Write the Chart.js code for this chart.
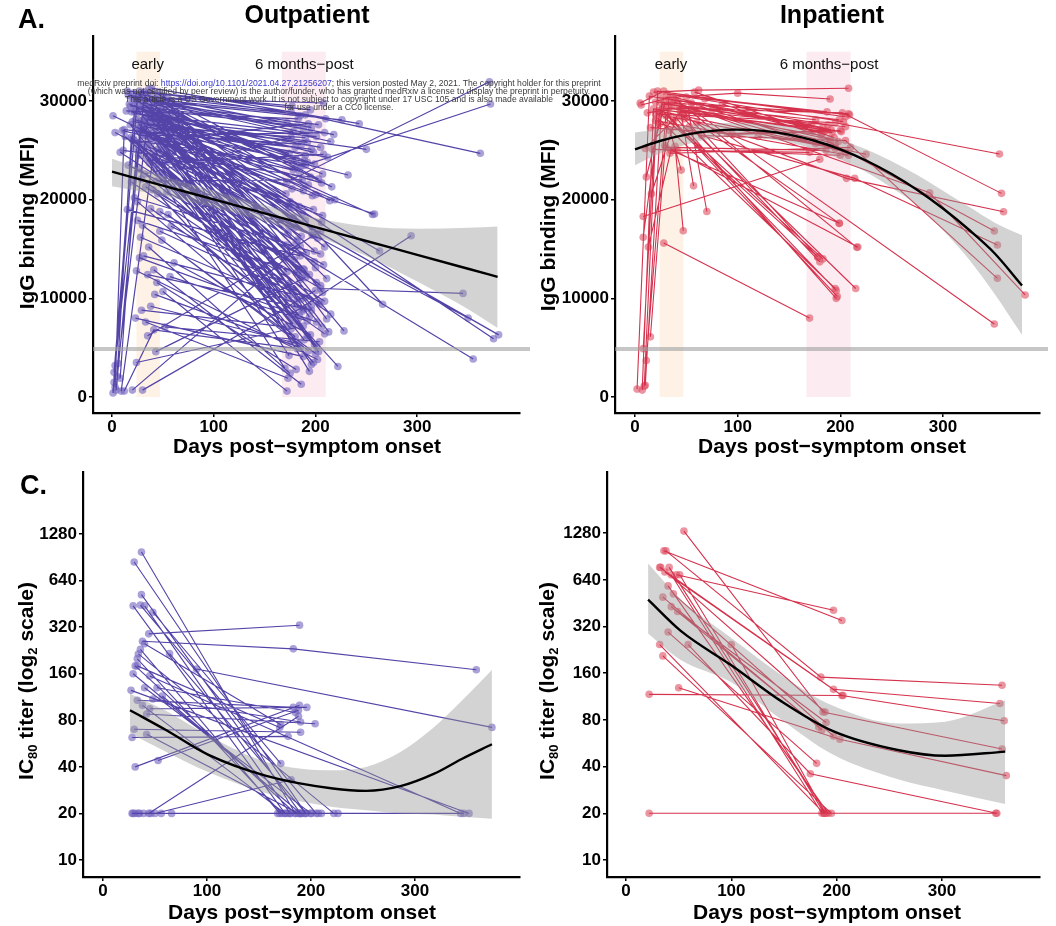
<!DOCTYPE html>
<html>
<head>
<meta charset="utf-8">
<script src="https://cdn.jsdelivr.net/npm/chart.js@4.4.1/dist/chart.umd.min.js"></script>
<style>
  body { margin: 0; background: #fff; width: 1056px; height: 926px; position: relative; overflow: hidden; }
  canvas { position: absolute; }
</style>
</head>
<body>
<canvas id="cB" width="526" height="460" style="left:530px;top:0px"></canvas>
<canvas id="cC" width="530" height="466" style="left:0px;top:460px"></canvas>
<canvas id="cD" width="526" height="466" style="left:530px;top:460px"></canvas>
<canvas id="cA" width="620" height="460" style="left:0px;top:0px"></canvas>
<script>
// ---- shared axis / annotation values ----
const xTicks = [0, 100, 200, 300];
const iggTicks = [0, 10000, 20000, 30000];
const titerTicks = [10, 20, 40, 80, 160, 320, 640, 1280];
const earlyBand = [24, 47];
const sixMonthBand = [167, 210];
const bandTop = 35000;
const bandLabels = ['early', '6 months\u2212post'];
const bandLabelDays = [35, 189];
const bandLabelY = 33700;
const seroThreshold = 4870;

// ---- A. outpatient IgG (two visits) ----
const outDay1 = [18,22,25,27,30,32,35,38,40,42, 45,20,24,28,33,36,44,48,52,55, 60,16,23,31,39,46,58,65,1,3,
  24,26,29,31,34,37,40,43,47,50, 53,57,62,17,8,27,30,35,41,49, 54,20,33,38,45,51,59,11,36,42,
  18,22,26,29,33,37,40,44,48,52, 56,21,31,35,39,46,24,28,34,43, 30,53,27,41,25,30,36,41,45,50,
  27,33,38,47,55,61,23,29,44,52, 8,20,30,24,43,35,14,10,47,57, 63,70,33];
const outVal1 = [29500,30200,28700,31000,29800,28200,30500,27600,29100,28400,
  30800,27900,29300,26800,30100,28900,27300,29700,28600,30300,
  27100,30600,28100,27400,31300,29900,28800,27800,28500,26800,
  30000,27700,29100,25300,28500,26200,30400,27500,25900,29300,
  26600,28000,25100,29700,24800,27200,30700,26400,28800,24600,
  27900,26100,29500,25600,28200,23800,26900,25000,27000,24300,
  27600,29600,25800,28000,26500,29300,24700,27900,25400,28400,
  23900,26200,27300,24200,28700,26000,30100,27000,25500,23400,
  25000,27200,23100,29800,19800,17400,15200,12900,20600,10700,
  14100,21300,9200,16800,18500,13600,8000,22100,11600,7100,
  1900,700,700,3500,4600,6200,29000,27000,18800,12200,
  21800,24200,7600];
const outDay2 = [172,185,178,195,188,201,176,192,182,205, 210,170,198,186,215,174,190,203,181,208,
  196,218,184,212,243,226,199,250,175,180, 193,171,187,202,179,197,214,183,206,191,
  177,209,185,256,194,173,200,188,176,198, 211,204,182,205,190,172,219,195,186,207,
  178,192,184,199,174,206,189,181,196,213, 187,170,203,176,194,183,375,380,350,355,
  222,201,188,228,180,193,175,186,198,172, 201,209,183,190,177,195,188,215,181,204,
  24,185,200,188,190,205,183,178,174,192, 208,196,173];
const outVal2 = [27800,28500,26900,29100,27200,26400,28900,25800,27500,25300,
  28200,26100,24800,25600,25900,24700,26300,27600,24100,29800,
  25100,26600,22900,24300,27700,28100,23600,25100,19800,17200,
  21500,15400,18600,16100,13900,20400,19900,12800,17700,14600,
  21100,15200,11900,18500,12400,16600,13100,20900,10900,19000,
  12000,9400,15900,11300,17900,14200,20000,22300,16300,18400,
  7400,6200,8300,5300,4200,7100,5800,9100,3300,6600,
  8700,2900,4600,6900,2600,7900,5900,6300,8000,3850,
  3100,5100,8900,6700,6100,4700,2400,1300,3500,600,
  7600,9700,5400,10100,8100,6300,4100,8400,2800,5600,
  25200,15300,10800,7200,12100,16800,28200,23000,11500,7700,
  13400,9300,1900];
const outMoreDay1 = [15,19,21,23,26,28,29,32,34,36, 38,41,43,45,47,49,50,53,56,60,
  62,13,16,19,22,25,28,31,35,38, 42,46,49,54,58,64,27,32,37,44, 51,59,66,40,33,29,24];
const outMoreVal1 = [31000,28900,30800,27000,30600,29400,26500,30900,29800,31200,
  28300,26900,30200,25100,29000,27400,30600,24900,29600,26300,
  28600,26400,23500,21800,20200,17900,16200,14300,12400,19100,
  10400,22700,15900,20800,17300,23300,25800,22600,23700,21900,
  22300,24700,26100,28100,27700,8800,12800];
const outMoreDay2 = [177,189,196,206,180,171,209,184,197,203, 178,192,216,174,199,187,207,182,194,176,
  211,186,199,173,205,182,191,178,196,209, 185,172,200,188,203,181,193,176,208,187, 197,174,189,263,232,171,202];
const outMoreVal2 = [29500,24000,27300,21700,23200,20600,26800,19300,16900,22100,
  18200,23800,21300,17300,14800,12300,10600,9800,8100,5600,
  7900,9900,13700,11200,14500,12600,9000,10400,8800,6400,
  5000,10000,4400,13000,9600,15700,27700,26300,24600,22000,
  16400,19200,12900,14800,22500,7100,3800];
// outpatient IgG (three visits)
const outTriDay1 = [1,2,3,4,5,6,2,9,3,12,30,22,26,40,19,35,28];
const outTriVal1 = [400,1500,3200,700,2100,3400,2500,600,1000,600,27000,26000,24500,21000,30400,29000,28000];
const outTriDay2 = [22,25,28,31,19,35,15,40,12,41,172,190,176,205,190,200,178];
const outTriVal2 = [28900,30400,27300,29900,26300,28100,19000,24100,27100,6800,21800,23500,8400,11000,28600,20500,19200];
const outTriDay3 = [186,194,178,207,172,190,185,201,180,182,371,372,294,345,362,258,266];
const outTriVal3 = [23400,26700,18100,22600,12700,24500,14300,11600,25300,4900,31950,29700,16350,10500,24700,18550,9400];
// outpatient IgG fit
const outFitDays = [0,50,100,150,200,250,300,350,379];
const outFit = [22840,21430,20030,18620,17220,15810,14410,13000,12180];
const outFitHi = [24150,22400,20900,19450,18150,17300,17050,17150,17280];
const outFitLo = [21350,20400,19200,17800,16300,14300,11700,8900,7000];

// ---- B. inpatient IgG ----
const inDay1 = [8,20,27,31,36,39,44,50,55,58, 63,68,75,85,5,23,30,17,41,34, 22,26,32,37,43,48,53,29,60,28, 39,52,45,34,60,42,95,120];
const inVal1 = [18300,29900,29300,30700,29600,30100,29000,30400,29800,30900,
  29500,30200,29100,29700,29800,29000,25300,25100,25000,24700,
  28300,29100,28600,27900,29400,28200,27400,25500,27800,15600,
  25400,29000,28700,27000,28800,30000,26600,26400];
const inDay2 = [180,208,205,187,172,199,181,203,185,194, 176,209,191,198,28,225,186,200,170,210,
  195,197,196,183,178,180,215,217,199,170, 47,70,57,45,350,216,185,195];
const inVal2 = [24100,28700,27400,28900,27600,28100,26500,27900,27000,26300,
  25700,28600,27100,25900,31000,24600,25000,24500,24800,25300,
  11000,10200,10800,14000,14200,13700,11000,15200,17600,8000,
  16850,18800,21400,23000,7400,15170,26900,25500];
const inTriDay1 = [2,7,9,10,11,15,8,11,13,8, 16,10,18,25,6,12,20,33,46,56, 24,38,65,15];
const inTriVal1 = [800,700,1100,1200,3700,6100,4900,22300,15200,16200,
  20600,25200,30900,30300,29600,28800,28700,29300,28400,29200, 27700,29900,26500,27300];
const inTriDay2 = [14,18,22,26,30,33,20,29,35,24, 40,46,62,100,37,47,195,202,206,190, 214,287,205,90];
const inTriVal2 = [30500,29200,31000,29700,28500,30200,28000,29800,25000,28800,
  28300,29000,31100,30800,30400,29400,27800,28800,22160,25800, 22160,20700,26000,26700];
const inTriDay3 = [188,201,205,176,195,183,208,190,199,178, 196,192,208,190,182,205,355,357,359,350, 353,380,353,200];
const inTriVal3 = [27600,26900,28400,28100,25200,27300,24500,26100,17600,14200,
  10000,26800,31300,30200,26700,24800,24630,20640,18780,16820, 15400,10340,12030,27000];
const inFitDays = [0,25,50,75,100,125,150,175,200,225,250,275,300,325,350,377];
const inFit = [25100,25975,26600,26975,27100,26975,26600,25975,25100,23975,22600,20975,19100,16975,14600,11300];
const inFitHi = [26800,27200,27500,27700,27800,27700,27400,26800,26100,25100,23900,22500,20900,19300,17700,16400];
const inFitLo = [23500,24700,25600,26200,26400,26200,25800,25100,24100,22800,21200,19400,16900,14000,10500,6300];

// ---- C. outpatient IC80 titer ----
const ncDay1 = [37,30,37,29,36,40,48,44,40,36, 34,33,31,64,90,29,45,40,52,27, 57,33,38,45,42,30,28,42,53,31,
  44,50,28,31,35,39,46,56,66,34, 33,48,29];
const ncVal1 = [980,845,520,440,445,440,400,290,250,230, 215,200,180,216,172,160,155,130,130,125,
  115,108,100,95,88,70,62,65,44,40, 20,20,20,20,20,20,20,20,20,20, 180,110,20];
const ncDay2 = [185,195,190,175,205,180,171,189,171,170, 222,172,185,195,374,190,344,200,185,352,
  190,183,175,196,204,190,178,188,188,189, 188,181,180,200,168,210,193,226,178,207, 170,190,347];
const ncVal2 = [20,20,20,20,20,20,42,330,75,20, 20,20,20,20,72,20,20,20,90,20,
  20,97,20,97,76,67,63,20,93,100, 85,33,20,20,20,20,20,20,20,20, 72,78,20];
const ncTriDay1 = [38], ncTriVal1 = [260];
const ncTriDay2 = [183], ncTriVal2 = [232];
const ncTriDay3 = [359], ncTriVal3 = [170];
const ncFitDays = [26,61,101,157,221,253,286,318,345,374];
const ncFit = [93,69,48,35,29,28,30,36,45,56];
const ncFitHi = [119,92,64,43,38,40,50,72,107,169];
const ncFitLo = [66,50,37,27,22,21,20,19.7,19,18.5];

// ---- D. inpatient IC80 titer ----
const ipDay1 = [36,48,41,51,40,35,43,49,40,100, 32,35,22,22,45,33,43];
const ipVal1 = [985,690,770,690,585,495,430,400,295,245, 245,207,117,20,520,770,690];
const ipDay2 = [205,197,190,188,192,186,183,190,181,189, 188,195,206,351,197,189,186];
const ipVal2 = [350,408,20,20,20,69,72,77,42,20, 20,20,115,20,63,90,20];
const ipTriDay1 = [55,38,32,37,59,50], ipTriVal1 = [1320,985,770,720,245,129];
const ipTriDay2 = [187,185,197,205,175,203], ipTriVal2 = [90,151,126,115,36,60];
const ipTriDay3 = [357,357,355,359,352,361], ipTriVal3 = [52,134,102,79,20,35];
const ipFitDays = [21,52,100,148,196,259,303,360];
const ipFit = [477,300,180,105,68,51,47,50];
const ipFitHi = [815,480,270,155,99,76,78,107];
const ipFitLo = [289,195,140,80,48,33,28,23];

const FONT = "'Liberation Sans', Arial, Helvetica, sans-serif";
Chart.defaults.font.family = FONT;
Chart.defaults.animation = false;

const PURPLE_LINE = '#5444a8';
const PURPLE_PT = 'rgba(112,98,190,0.6)';
const RED_LINE = '#d5324d';
const RED_PT = 'rgba(222,78,98,0.6)';

function zip(days, vals) {
  return days.map((d, i) => ({x: d, y: vals[i]}));
}

// join each subject's visits into one broken line (null y = gap)
function subjects(two, three) {
  const lines = [], points = [];
  const add = seq => {
    seq.forEach(p => { lines.push({x: p[0], y: p[1]}); points.push({x: p[0], y: p[1]}); });
    lines.push({x: seq[seq.length - 1][0], y: null});
  };
  two[0].forEach((d, i) => add([[d, two[1][i]], [two[2][i], two[3][i]]]));
  three[0].forEach((d, i) => add([[d, three[1][i]], [three[2][i], three[3][i]], [three[4][i], three[5][i]]]));
  return {lines, points};
}

function drawVertical(ctx, parts, x, y) {
  ctx.save();
  ctx.translate(x, y);
  ctx.rotate(-Math.PI / 2);
  ctx.textBaseline = 'middle';
  ctx.textAlign = 'left';
  ctx.fillStyle = '#000';
  const big = 'bold 21px ' + FONT, small = 'bold 13px ' + FONT;
  let w = 0;
  parts.forEach(p => { ctx.font = p[1] ? small : big; w += ctx.measureText(p[0]).width; });
  let cx = -w / 2;
  parts.forEach(p => {
    ctx.font = p[1] ? small : big;
    ctx.fillText(p[0], cx, p[1] ? 6 : 0);
    cx += ctx.measureText(p[0]).width;
  });
  ctx.restore();
}

function text(ctx, s, x, y, font, align) {
  ctx.font = font;
  ctx.textAlign = align || 'center';
  ctx.textBaseline = 'alphabetic';
  ctx.fillStyle = '#000';
  ctx.fillText(s, x, y);
}

const watermark = [
  [['medRxiv preprint doi: ', '#3a3a3a'], ['https://doi.org/10.1101/2021.04.27.21256207', '#3b3bd0'],
   ['; this version posted May 2, 2021. The copyright holder for this preprint', '#3a3a3a']],
  [['(which was not certified by peer review) is the author/funder, who has granted medRxiv a license to display the preprint in perpetuity.', '#3a3a3a']],
  [['This article is a US Government work. It is not subject to copyright under 17 USC 105 and is also made available', '#3a3a3a']],
  [['for use under a CC0 license.', '#3a3a3a']]
];

function makePanel(id, o) {
  const subj = subjects(o.two, o.three);
  const decor = {
    id: 'decor',
    beforeDatasetsDraw(chart) {
      if (!o.bands) return;
      const {ctx, scales: {x, y}} = chart;
      ctx.save();
      const yt = y.getPixelForValue(bandTop), yb = y.getPixelForValue(0);
      ctx.fillStyle = '#fdf2e5';
      ctx.fillRect(x.getPixelForValue(earlyBand[0]), yt, x.getPixelForValue(earlyBand[1]) - x.getPixelForValue(earlyBand[0]), yb - yt);
      ctx.fillStyle = '#fcebf0';
      ctx.fillRect(x.getPixelForValue(sixMonthBand[0]), yt, x.getPixelForValue(sixMonthBand[1]) - x.getPixelForValue(sixMonthBand[0]), yb - yt);
      ctx.font = '15px ' + FONT;
      ctx.fillStyle = '#111';
      ctx.textAlign = 'center';
      ctx.textBaseline = 'middle';
      bandLabels.forEach((l, i) => ctx.fillText(l, x.getPixelForValue(bandLabelDays[i]), y.getPixelForValue(bandLabelY)));
      ctx.restore();
    },
    afterDatasetsDraw(chart) {
      if (!o.bands) return;
      const {ctx, chartArea: a, scales: {y}} = chart;
      ctx.save();
      ctx.strokeStyle = 'rgba(160,160,160,0.6)';
      ctx.lineWidth = 4;
      ctx.beginPath();
      const yy = y.getPixelForValue(seroThreshold);
      ctx.moveTo(a.left, yy);
      ctx.lineTo(a.right + o.thrExtra, yy);
      ctx.stroke();
      ctx.restore();
    },
    afterDraw(chart) {
      const ctx = chart.ctx;
      ctx.save();
      if (o.title) text(ctx, o.title[0], o.title[1], o.title[2], 'bold 25px ' + FONT);
      if (o.letter) text(ctx, o.letter[0], o.letter[1], o.letter[2], 'bold 27px ' + FONT, 'left');
      text(ctx, 'Days post\u2212symptom onset', o.xTitle[0], o.xTitle[1], 'bold 21px ' + FONT);
      drawVertical(ctx, o.yTitle, o.yTitlePos[0], o.yTitlePos[1]);
      if (o.watermark) {
        ctx.font = '8.6px ' + FONT;
        ctx.textBaseline = 'middle';
        ctx.textAlign = 'left';
        watermark.forEach((line, li) => {
          let w = 0;
          line.forEach(p => { w += ctx.measureText(p[0]).width; });
          let cx = 339 - w / 2;
          line.forEach(p => {
            ctx.fillStyle = p[1];
            ctx.fillText(p[0], cx, 84 + li * 8);
            cx += ctx.measureText(p[0]).width;
          });
        });
      }
      ctx.restore();
    }
  };

  const axisFont = {family: FONT, size: 17, weight: 'bold'};
  const grid = {drawOnChartArea: false, drawTicks: true, tickLength: 4, color: '#000', lineWidth: 1.5};
  const border = {display: true, color: '#000', width: 2.2};
  const curve = 'monotone';

  new Chart(document.getElementById(id), {
    type: 'line',
    data: {
      datasets: [
        {data: zip(o.fit[0], o.fit[1]), borderColor: '#000', borderWidth: 2.4, pointRadius: 0, cubicInterpolationMode: curve, order: 0},
        {data: zip(o.fit[0], o.fit[2]), borderWidth: 0, borderColor: 'rgba(0,0,0,0)', pointRadius: 0, cubicInterpolationMode: curve, order: 1},
        {data: zip(o.fit[0], o.fit[3]), borderWidth: 0, borderColor: 'rgba(0,0,0,0)', pointRadius: 0, cubicInterpolationMode: curve,
         fill: '-1', backgroundColor: 'rgba(150,150,150,0.42)', order: 1},
        {data: subj.lines, borderColor: o.lineColor, borderWidth: o.lineWidth, pointRadius: 0, spanGaps: false, order: 2},
        {data: subj.points, showLine: false, pointRadius: 3.8, pointBorderWidth: 0, pointBackgroundColor: o.pointColor, order: 3}
      ]
    },
    options: {
      responsive: false,
      animation: false,
      layout: {padding: o.padding},
      plugins: {legend: {display: false}, tooltip: {enabled: false}},
      scales: {
        x: {
          type: 'linear', min: o.xRange[0], max: o.xRange[1],
          afterBuildTicks: s => { s.ticks = xTicks.map(v => ({value: v})); },
          afterFit: s => { s.height = o.xH; },
          grid, border,
          ticks: {font: axisFont, color: '#000', padding: 0, maxRotation: 0, callback: v => String(v)}
        },
        y: {
          type: o.log ? 'logarithmic' : 'linear', min: o.yRange[0], max: o.yRange[1],
          afterBuildTicks: s => { s.ticks = o.yTicks.map(v => ({value: v})); },
          afterFit: s => { s.width = o.yW; },
          grid, border,
          ticks: {font: axisFont, color: '#000', padding: 2, callback: v => String(v)}
        }
      }
    },
    plugins: [decor]
  });
}

makePanel('cB', {
  two: [inDay1, inVal1, inDay2, inVal2],
  three: [inTriDay1, inTriVal1, inTriDay2, inTriVal2, inTriDay3, inTriVal3],
  fit: [inFitDays, inFit, inFitHi, inFitLo],
  lineColor: RED_LINE, pointColor: RED_PT, lineWidth: 1.1,
  padding: {top: 36, right: 16, left: 0, bottom: 0}, yW: 85, xH: 47,
  xRange: [-19.5, 394.5], yRange: [-1620, 36590], yTicks: iggTicks, log: false,
  bands: true, thrExtra: 8,
  title: ['Inpatient', 302, 23],
  xTitle: [302, 453],
  yTitle: [['IgG binding (MFI)', false]], yTitlePos: [19, 225]
});

makePanel('cC', {
  two: [ncDay1, ncVal1, ncDay2, ncVal2],
  three: [ncTriDay1, ncTriVal1, ncTriDay2, ncTriVal2, ncTriDay3, ncTriVal3],
  fit: [ncFitDays, ncFit, ncFitHi, ncFitLo],
  lineColor: PURPLE_LINE, pointColor: PURPLE_PT, lineWidth: 1.1,
  padding: {top: 12, right: 10, left: 0, bottom: 0}, yW: 83, xH: 49,
  xRange: [-19.2, 401], yRange: [7.76, 3220], yTicks: titerTicks, log: true,
  bands: false,
  letter: ['C.', 20, 34],
  xTitle: [302, 459],
  yTitle: [['IC', false], ['80', true], [' titer (log', false], ['2', true], [' scale)', false]], yTitlePos: [27, 221]
});

makePanel('cD', {
  two: [ipDay1, ipVal1, ipDay2, ipVal2],
  three: [ipTriDay1, ipTriVal1, ipTriDay2, ipTriVal2, ipTriDay3, ipTriVal3],
  fit: [ipFitDays, ipFit, ipFitHi, ipFitLo],
  lineColor: RED_LINE, pointColor: RED_PT, lineWidth: 1.1,
  padding: {top: 12, right: 16, left: 0, bottom: 0}, yW: 77, xH: 49,
  xRange: [-18, 393], yRange: [7.77, 3165], yTicks: titerTicks, log: true,
  bands: false,
  xTitle: [297, 459],
  yTitle: [['IC', false], ['80', true], [' titer (log', false], ['2', true], [' scale)', false]], yTitlePos: [18, 221]
});

makePanel('cA', {
  two: [outDay1.concat(outMoreDay1), outVal1.concat(outMoreVal1), outDay2.concat(outMoreDay2), outVal2.concat(outMoreVal2)],
  three: [outTriDay1, outTriVal1, outTriDay2, outTriVal2, outTriDay3, outTriVal3],
  fit: [outFitDays, outFit, outFitHi, outFitLo],
  lineColor: PURPLE_LINE, pointColor: PURPLE_PT, lineWidth: 1.2,
  padding: {top: 36, right: 100, left: 0, bottom: 0}, yW: 93, xH: 47,
  xRange: [-18.7, 401], yRange: [-1620, 36590], yTicks: iggTicks, log: false,
  bands: true, thrExtra: 10,
  title: ['Outpatient', 307, 23],
  letter: ['A.', 18, 28],
  xTitle: [307, 453],
  yTitle: [['IgG binding (MFI)', false]], yTitlePos: [28, 223],
  watermark: true
});
</script>
</body>
</html>
